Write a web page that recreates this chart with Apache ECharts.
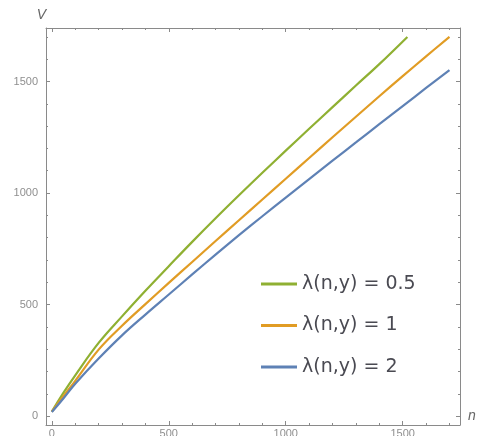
<!DOCTYPE html>
<html>
<head>
<meta charset="utf-8">
<script src="https://cdn.jsdelivr.net/npm/echarts@6/dist/echarts.min.js"></script>
<style>
    html, body { margin: 0; padding: 0; background: #fff; }
    #main { width: 479px; height: 436px; }
</style>
</head>
<body>
<div id="main"></div>
<script>
// n values (x) for each curve
const nGreen = [0, 50, 100, 200, 300, 400, 500, 600, 700, 800, 900, 1000, 1100, 1200, 1300, 1400, 1520];
const nOther = [0, 50, 100, 200, 300, 400, 500, 600, 700, 800, 900, 1000, 1100, 1200, 1300, 1400, 1500, 1600, 1700];

// V values
const vGreen  = [20, 105, 183, 328, 447, 562, 672, 781, 887, 990, 1091, 1190, 1288, 1385, 1482, 1578, 1700];
const vOrange = [20, 90, 158, 298, 405, 502, 597, 691, 785, 878, 971, 1064, 1157, 1250, 1342, 1434, 1524, 1613, 1700];
const vBlue   = [18, 80, 145, 258, 362, 455, 545, 635, 724, 811, 896, 979, 1062, 1145, 1227, 1309, 1390, 1471, 1551];

const seriesNames = ['λ(n,y) = 0.5', 'λ(n,y) = 1', 'λ(n,y) = 2'];
const colors = ['#8FB032', '#E19C24', '#5E81B5'];

// tick positions
const xMajor = [0, 500, 1000, 1500];
const xMinor = [0, 100, 200, 300, 400, 500, 600, 700, 800, 900, 1000, 1100, 1200, 1300, 1400, 1500, 1600, 1700];
const yMajor = [0, 500, 1000, 1500];
const yMinor = [0, 100, 200, 300, 400, 500, 600, 700, 800, 900, 1000, 1100, 1200, 1300, 1400, 1500, 1600, 1700];

const zip = (xs, ys) => xs.map((x, i) => [x, ys[i]]);

const frameColor = '#8a8a8a';
const labelColor = '#8f8f8f';

function makeAxis(pos, opts) {
    return Object.assign({
        type: 'value',
        position: pos,
        splitLine: { show: false },
        axisLine: { show: false, onZero: false, lineStyle: { color: frameColor, width: 1 } },
        axisTick: { show: false },
        axisLabel: { show: false }
    }, opts);
}

const X_MIN = -25, X_MAX = 1745;
const Y_MIN = -40, Y_MAX = 1740;

const chart = echarts.init(document.getElementById('main'));
chart.setOption({
    backgroundColor: '#fff',
    animation: false,
    grid: { left: 46, right: 19, top: 28, bottom: 11, containLabel: false, outerBoundsMode: 'none' },
    legend: {
        orient: 'vertical',
        left: 256,
        top: 269,
        itemWidth: 36,
        itemHeight: 3,
        itemGap: 21.5,
        icon: 'rect',
        data: seriesNames,
        textStyle: { fontFamily: 'DejaVu Sans', fontSize: 19, color: '#4a4a52', lineHeight: 20 }
    },
    xAxis: [
        makeAxis('bottom', {
            min: X_MIN, max: X_MAX,
            name: 'n', nameLocation: 'end', nameGap: 8,
            nameTextStyle: { color: '#666', fontStyle: 'italic', fontSize: 14, verticalAlign: 'bottom', padding: [0, 0, 2, 0] },
            axisLine: { show: true, onZero: false, lineStyle: { color: frameColor, width: 1 } },
            axisTick: { show: true, inside: true, length: 4, customValues: xMajor, lineStyle: { color: frameColor } },
            axisLabel: { show: true, customValues: xMajor, margin: 3, color: labelColor, fontSize: 11,
                fontFamily: 'Liberation Sans', formatter: v => String(v) }
        }),
        makeAxis('bottom', {
            min: X_MIN, max: X_MAX,
            axisTick: { show: true, inside: true, length: 2, customValues: xMinor, lineStyle: { color: frameColor } }
        }),
        makeAxis('top', {
            min: X_MIN, max: X_MAX,
            axisLine: { show: true, onZero: false, lineStyle: { color: frameColor, width: 1 } },
            axisTick: { show: true, inside: true, length: 4, customValues: xMajor, lineStyle: { color: frameColor } }
        }),
        makeAxis('top', {
            min: X_MIN, max: X_MAX,
            axisTick: { show: true, inside: true, length: 2, customValues: xMinor, lineStyle: { color: frameColor } }
        })
    ],
    yAxis: [
        makeAxis('left', {
            min: Y_MIN, max: Y_MAX,
            name: 'V', nameLocation: 'end', nameGap: 6,
            nameTextStyle: { color: '#666', fontStyle: 'italic', fontSize: 14, align: 'right' },
            axisLine: { show: true, onZero: false, lineStyle: { color: frameColor, width: 1 } },
            axisTick: { show: true, inside: true, length: 4, customValues: yMajor, lineStyle: { color: frameColor } },
            axisLabel: { show: true, customValues: yMajor, margin: 8, color: labelColor, fontSize: 11,
                fontFamily: 'Liberation Sans', formatter: v => String(v) }
        }),
        makeAxis('left', {
            min: Y_MIN, max: Y_MAX,
            axisTick: { show: true, inside: true, length: 2, customValues: yMinor, lineStyle: { color: frameColor } }
        }),
        makeAxis('right', {
            min: Y_MIN, max: Y_MAX,
            axisLine: { show: true, onZero: false, lineStyle: { color: frameColor, width: 1 } },
            axisTick: { show: true, inside: true, length: 4, customValues: yMajor, lineStyle: { color: frameColor } }
        }),
        makeAxis('right', {
            min: Y_MIN, max: Y_MAX,
            axisTick: { show: true, inside: true, length: 2, customValues: yMinor, lineStyle: { color: frameColor } }
        })
    ],
    series: [
        { name: seriesNames[0], type: 'line', data: zip(nGreen, vGreen), symbol: 'none', color: colors[0],
          smooth: 0.4, lineStyle: { width: 2.2 } },
        { name: seriesNames[1], type: 'line', data: zip(nOther, vOrange), symbol: 'none', color: colors[1],
          smooth: 0.4, lineStyle: { width: 2.2 } },
        { name: seriesNames[2], type: 'line', data: zip(nOther, vBlue), symbol: 'none', color: colors[2],
          smooth: 0.4, lineStyle: { width: 2.2 } }
    ]
});
</script>
</body>
</html>
